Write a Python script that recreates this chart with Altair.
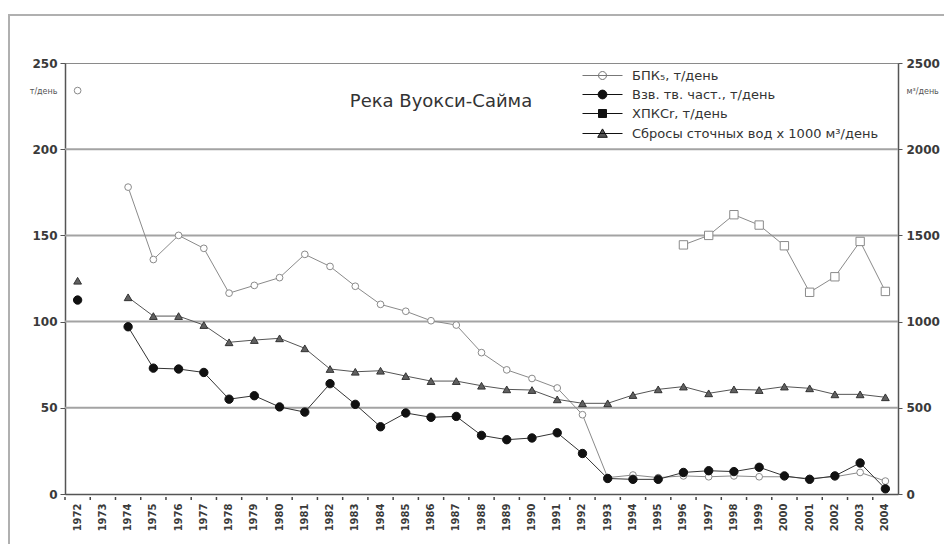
import altair as alt
import pandas as pd

years = list(range(1972, 2005))
year_labels = [str(y) for y in years]

# БПК5, т/день (open circles)
bpk = [234, None, 178, 136, 150, 142.5, 116.5, 121, 125.5, 139, 132, 120.5, 110, 106,
       100.5, 98, 82, 72, 67, 61.5, 46, 9.5, 11, 9.5, 10.5, 10, 10.5, 10, 10, 9, 10, 12.5, 7.5]
# Взв. тв. част., т/день (filled circles)
susp = [112.5, None, 97, 73, 72.5, 70.5, 55, 57, 50.5, 47.5, 64, 52, 39, 47, 44.5, 45,
        34, 31.5, 32.5, 35.5, 23.5, 9, 8.5, 8.5, 12.5, 13.5, 13, 15.5, 10.5, 8.5, 10.5, 18, 3]
# ХПКCr, т/день (squares)
hpk = [None] * 24 + [144.5, 150, 162, 156, 144, 117, 126, 146.5, 117.5]
# Сбросы сточных вод, м3/день (triangles, right axis)
flow = [1237, None, 1141, 1032, 1032, 980, 880, 893, 903, 845, 725, 709, 715, 684, 655,
        655, 628, 607, 603, 549, 526, 526, 574, 607, 623, 584, 607, 603, 623, 613, 578, 578, 561]

series_names = ["БПК₅, т/день", "Взв. тв. част., т/день", "ХПКCr, т/день",
                "Сбросы сточных вод x 1000 м³/день"]
left_ticks = [0, 50, 100, 150, 200, 250]
right_ticks = [0, 500, 1000, 1500, 2000, 2500]
grid_values = [50, 100, 150, 200]
chart_title = "Река Вуокси-Сайма"


def frame(vals):
    return pd.DataFrame({"year": year_labels, "yr": years, "value": vals}).dropna()


df_bpk = frame(bpk)
df_susp = frame(susp)
df_hpk = frame(hpk)
df_flow = frame(flow)
df_years = pd.DataFrame({"year": year_labels, "value": [0] * len(year_labels)})
df_grid = pd.DataFrame({"value": grid_values})
df_legend = pd.DataFrame({"series": series_names})
df_one = pd.DataFrame({"t": [chart_title]})

FONT = "DejaVu Sans"
x_axis = alt.Axis(title=None, labelAngle=-90, labelAlign="right", labelBaseline="middle",
                  labelFont=FONT, labelFontSize=10, labelFontWeight="bold", labelColor="#3a3a3a",
                  ticks=False, domainColor="#555", domainWidth=1.5, labelPadding=9)
x_scale = alt.Scale(type="band", domain=year_labels, paddingInner=0, paddingOuter=0)
X = alt.X("year:O", scale=x_scale, axis=x_axis)

axL = alt.Axis(values=left_ticks, format="d", title="т/день", titleAngle=0, titleX=-8,
               titleY=28, titleAlign="right", titleBaseline="middle", titleFont=FONT,
               titleFontSize=8, titleFontWeight="normal", titleColor="#555", labelFont=FONT,
               labelFontSize=12, labelFontWeight="bold", labelColor="#3a3a3a", tickSize=5,
               tickColor="#555", domainColor="#555", domainWidth=1.5, labelPadding=3, grid=False)
YL = alt.Y("value:Q", scale=alt.Scale(domain=[0, 250], nice=False), axis=axL)

axR = alt.Axis(values=right_ticks, format="d", orient="right", title="м³/день", titleAngle=0,
               titleX=8, titleY=28, titleAlign="left", titleBaseline="middle", titleFont=FONT,
               titleFontSize=8, titleFontWeight="normal", titleColor="#555", labelFont=FONT,
               labelFontSize=12, labelFontWeight="bold", labelColor="#3a3a3a", tickSize=4,
               tickColor="#555", domainColor="#555", domainWidth=1.5, labelPadding=4, grid=False)
YR = alt.Y("value:Q", scale=alt.Scale(domain=[0, 2500], nice=False), axis=axR)

border = alt.Chart(df_one).mark_rect(fill="transparent", stroke="#b0b0b0", strokeWidth=2).encode(
    x=alt.value(-56), x2=alt.value(900), y=alt.value(-48), y2=alt.value(488))

grid = alt.Chart(df_grid).mark_rule(color="#a3a3a3", strokeWidth=2).encode(y=YL)

# x-axis tick marks at the boundaries between the yearly bands (symbol-based ticks)
xticks = alt.Chart(df_years).mark_point(
    shape="M0,0V1", size=36, stroke="#444", strokeWidth=1.5, filled=False, opacity=1,
    yOffset=3).encode(
    x=alt.X("year:O", scale=x_scale, axis=x_axis, bandPosition=0), y=YL)

bpk_line = alt.Chart(df_bpk).transform_filter("datum.yr >= 1974").mark_line(
    color="#8a8a8a", strokeWidth=1).encode(x=X, y=YL)
bpk_pts = alt.Chart(df_bpk).mark_point(shape="circle", size=45, fill="white", filled=True,
                                       stroke="#8a8a8a", strokeWidth=1, opacity=1).encode(x=X, y=YL)

hpk_line = alt.Chart(df_hpk).mark_line(color="#8a8a8a", strokeWidth=1).encode(x=X, y=YL)
hpk_pts = alt.Chart(df_hpk).mark_point(shape="square", size=70, fill="white", filled=True,
                                       stroke="#8a8a8a", strokeWidth=1, opacity=1).encode(x=X, y=YL)

susp_line = alt.Chart(df_susp).transform_filter("datum.yr >= 1974").mark_line(
    color="#333", strokeWidth=1).encode(x=X, y=YL)
susp_pts = alt.Chart(df_susp).mark_point(shape="circle", size=70, fill="#111", filled=True,
                                         stroke="#111", strokeWidth=1, opacity=1).encode(x=X, y=YL)

shape_paths = [
    "M-5,0H5M1,0A1,1,0,1,1,-1,0A1,1,0,1,1,1,0Z",
    "M-5,0H5M1.1,0A1.1,1.1,0,1,1,-1.1,0A1.1,1.1,0,1,1,1.1,0Z",
    "M-5,0H5M-1,-1H1V1H-1Z",
    "M-5,0H5M0,-1.15L1.2,0.95H-1.2Z",
]
leg = alt.Legend(title=None, orient="none", legendX=531, legendY=6, padding=0,
                 labelFont=FONT, labelFontSize=13, labelColor="#333", labelOffset=23,
                 symbolSize=64, symbolStrokeWidth=1, rowPadding=5, labelLimit=400)
legend_layer = alt.Chart(df_legend).transform_filter("false").mark_point(
    filled=True, opacity=1).encode(
    shape=alt.Shape("series:N", scale=alt.Scale(domain=series_names, range=shape_paths), legend=leg),
    fill=alt.Fill("series:N", scale=alt.Scale(domain=series_names,
                                                range=["white", "#111", "#111", "#555"]), legend=leg),
    stroke=alt.Stroke("series:N", scale=alt.Scale(domain=series_names,
                                                    range=["#777", "#111", "#111", "#111"]), legend=leg),
    x=alt.value(0), y=alt.value(0))

title_text = alt.Chart(df_one).mark_text(font=FONT, fontSize=18, color="#333",
                                          align="center", baseline="middle").encode(
    text="t:N", x=alt.value(376), y=alt.value(39))

flow_line = alt.Chart(df_flow).transform_filter("datum.yr >= 1974").mark_line(
    color="#555", strokeWidth=1).encode(x=X, y=YR)
flow_pts = alt.Chart(df_flow).mark_point(shape="triangle-up", size=60, fill="#606060",
                                         filled=True, stroke="#333", strokeWidth=1,
                                         opacity=1).encode(x=X, y=YR)

left = alt.layer(border, grid, xticks, bpk_line, hpk_line, susp_line, bpk_pts, hpk_pts,
                 susp_pts, legend_layer, title_text)
right = alt.layer(flow_line, flow_pts)

chart = alt.layer(left, right).resolve_scale(y="independent").properties(
    width=833, height=431, autosize="none",
    padding={"left": 57, "top": 55, "right": 46, "bottom": 50},
    background="white",
).configure_view(stroke="#8a8a8a", strokeWidth=1)

chart.save("out.html", embed_options={"renderer": "svg", "actions": False})
